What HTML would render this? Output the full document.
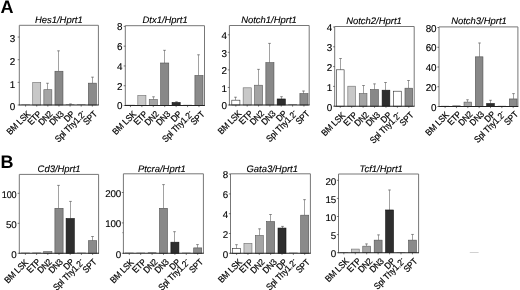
<!DOCTYPE html>
<html lang="en"><head><meta charset="utf-8"><title>Figure</title>
<style>html,body{margin:0;padding:0;background:#fff;}body{width:520px;height:290px;overflow:hidden;}</style>
</head><body>
<svg width="520" height="290" viewBox="0 0 520 290" style="display:block">
<rect width="520" height="290" fill="#fff"/>
<g text-rendering="geometricPrecision" font-family="'Liberation Sans', Arial, Helvetica, sans-serif">
<text x="0.6" y="13.4" font-size="18" font-weight="bold" fill="#000">A</text>
<text x="0.6" y="167.7" font-size="18" font-weight="bold" fill="#000">B</text>
<g>
<path d="M19.3 105V25.3H98.4V105" fill="none" stroke="#777" stroke-width="1.0"/>
<rect x="21.30" y="104.30" width="8.60" height="0.50" fill="#555" opacity="0.75"/>
<path d="M25.60 105v1.6" stroke="#222" stroke-width="0.6"/>
<text transform="translate(28.60 112.40) rotate(-45) scale(0.9 1)" text-anchor="end" font-size="9.0" letter-spacing="-0.15" word-spacing="0.2" stroke="#000" stroke-width="0.2" fill="#000" y="3.2">BM LSK</text>
<rect x="32.72" y="82.50" width="8.00" height="22.50" fill="#c8c8c8" stroke="#6c6c6c" stroke-width="0.6"/>
<path d="M36.72 105v1.6" stroke="#222" stroke-width="0.6"/>
<text transform="translate(39.72 112.40) rotate(-45) scale(0.9 1)" text-anchor="end" font-size="9.0" letter-spacing="-0.15" word-spacing="0.2" stroke="#000" stroke-width="0.2" fill="#000" y="3.2">ETP</text>
<path d="M47.50 89.70V82.95M46.00 83.25H49.00" fill="none" stroke="#555" stroke-width="0.55"/>
<rect x="43.84" y="89.70" width="8.00" height="15.30" fill="#a4a4a4" stroke="#5c5c5c" stroke-width="0.6"/>
<path d="M47.84 105v1.6" stroke="#222" stroke-width="0.6"/>
<text transform="translate(50.84 112.40) rotate(-45) scale(0.9 1)" text-anchor="end" font-size="9.0" letter-spacing="-0.15" word-spacing="0.2" stroke="#000" stroke-width="0.2" fill="#000" y="3.2">DN2</text>
<path d="M58.50 71.25V50.55M57.00 50.85H60.00" fill="none" stroke="#555" stroke-width="0.55"/>
<rect x="54.96" y="71.25" width="8.00" height="33.75" fill="#888888" stroke="#505050" stroke-width="0.6"/>
<path d="M58.96 105v1.6" stroke="#222" stroke-width="0.6"/>
<text transform="translate(61.96 112.40) rotate(-45) scale(0.9 1)" text-anchor="end" font-size="9.0" letter-spacing="-0.15" word-spacing="0.2" stroke="#000" stroke-width="0.2" fill="#000" y="3.2">DN3</text>
<path d="M70.50 104.33V103.65M69.00 103.95H72.00" fill="none" stroke="#555" stroke-width="0.55"/>
<rect x="65.78" y="104.12" width="8.60" height="0.67" fill="#555" opacity="0.75"/>
<path d="M70.08 105v1.6" stroke="#222" stroke-width="0.6"/>
<text transform="translate(73.08 112.40) rotate(-45) scale(0.9 1)" text-anchor="end" font-size="9.0" letter-spacing="-0.15" word-spacing="0.2" stroke="#000" stroke-width="0.2" fill="#000" y="3.2">DP</text>
<rect x="76.90" y="104.12" width="8.60" height="0.67" fill="#555" opacity="0.75"/>
<path d="M81.20 105v1.6" stroke="#222" stroke-width="0.6"/>
<text transform="translate(84.20 112.40) rotate(-45) scale(0.9 1)" text-anchor="end" font-size="9.0" letter-spacing="-0.15" word-spacing="0.2" stroke="#000" stroke-width="0.2" fill="#000" y="3.2">Spl Thy1.2<tspan dy="-3.2" dx="0.3" font-size="7">-</tspan></text>
<path d="M92.50 83.17V76.88M91.00 77.17H94.00" fill="none" stroke="#555" stroke-width="0.55"/>
<rect x="88.32" y="83.17" width="8.00" height="21.82" fill="#8a8a8a" stroke="#505050" stroke-width="0.6"/>
<path d="M92.32 105v1.6" stroke="#222" stroke-width="0.6"/>
<text transform="translate(95.32 112.40) rotate(-45) scale(0.9 1)" text-anchor="end" font-size="9.0" letter-spacing="-0.15" word-spacing="0.2" stroke="#000" stroke-width="0.2" fill="#000" y="3.2">SPT</text>
<path d="M18.900000000000002 105H98.80000000000001" fill="none" stroke="#222" stroke-width="1.1"/>
<path d="M19.3 105.00h-1.6" stroke="#222" stroke-width="0.6"/>
<text transform="translate(15.10 110.23) scale(1 1)" text-anchor="end" font-size="9.9" letter-spacing="-0.2" stroke="#000" stroke-width="0.12" fill="#000">0</text>
<path d="M19.3 82.35h-1.6" stroke="#222" stroke-width="0.6"/>
<text transform="translate(15.10 87.58) scale(1 1)" text-anchor="end" font-size="9.9" letter-spacing="-0.2" stroke="#000" stroke-width="0.12" fill="#000">1</text>
<path d="M19.3 59.70h-1.6" stroke="#222" stroke-width="0.6"/>
<text transform="translate(15.10 64.93) scale(1 1)" text-anchor="end" font-size="9.9" letter-spacing="-0.2" stroke="#000" stroke-width="0.12" fill="#000">2</text>
<path d="M19.3 37.05h-1.6" stroke="#222" stroke-width="0.6"/>
<text transform="translate(15.10 42.28) scale(1 1)" text-anchor="end" font-size="9.9" letter-spacing="-0.2" stroke="#000" stroke-width="0.12" fill="#000">3</text>
<text x="58.8" y="22.9" text-anchor="middle" font-size="9.45" font-style="italic" stroke="#000" stroke-width="0.12" fill="#000">Hes1/Hprt1</text>
</g>
<g>
<path d="M125.3 105.5V25.7H204.5V105.5" fill="none" stroke="#777" stroke-width="1.0"/>
<rect x="126.10" y="104.80" width="8.70" height="0.50" fill="#555" opacity="0.75"/>
<path d="M130.45 105.5v1.6" stroke="#222" stroke-width="0.6"/>
<text transform="translate(134.35 112.50) rotate(-45) scale(0.9 1)" text-anchor="end" font-size="9.0" letter-spacing="-0.15" word-spacing="0.2" stroke="#000" stroke-width="0.2" fill="#000" y="3.2">BM LSK</text>
<rect x="137.82" y="95.50" width="8.10" height="10.00" fill="#c8c8c8" stroke="#6c6c6c" stroke-width="0.6"/>
<path d="M141.87 105.5v1.6" stroke="#222" stroke-width="0.6"/>
<text transform="translate(145.77 112.50) rotate(-45) scale(0.9 1)" text-anchor="end" font-size="9.0" letter-spacing="-0.15" word-spacing="0.2" stroke="#000" stroke-width="0.2" fill="#000" y="3.2">ETP</text>
<path d="M153.50 99.50V96.50M152.00 96.80H155.00" fill="none" stroke="#555" stroke-width="0.55"/>
<rect x="149.24" y="99.50" width="8.10" height="6.00" fill="#a4a4a4" stroke="#5c5c5c" stroke-width="0.6"/>
<path d="M153.29 105.5v1.6" stroke="#222" stroke-width="0.6"/>
<text transform="translate(157.19 112.50) rotate(-45) scale(0.9 1)" text-anchor="end" font-size="9.0" letter-spacing="-0.15" word-spacing="0.2" stroke="#000" stroke-width="0.2" fill="#000" y="3.2">DN2</text>
<path d="M164.50 63.00V50.00M163.00 50.30H166.00" fill="none" stroke="#555" stroke-width="0.55"/>
<rect x="160.66" y="63.00" width="8.10" height="42.50" fill="#888888" stroke="#505050" stroke-width="0.6"/>
<path d="M164.71 105.5v1.6" stroke="#222" stroke-width="0.6"/>
<text transform="translate(168.61 112.50) rotate(-45) scale(0.9 1)" text-anchor="end" font-size="9.0" letter-spacing="-0.15" word-spacing="0.2" stroke="#000" stroke-width="0.2" fill="#000" y="3.2">DN3</text>
<path d="M176.50 102.50V101.50M175.00 101.80H178.00" fill="none" stroke="#555" stroke-width="0.55"/>
<rect x="172.08" y="102.50" width="8.10" height="3.00" fill="#2e2e2e" stroke="#111" stroke-width="0.6"/>
<path d="M176.13 105.5v1.6" stroke="#222" stroke-width="0.6"/>
<text transform="translate(180.03 112.50) rotate(-45) scale(0.9 1)" text-anchor="end" font-size="9.0" letter-spacing="-0.15" word-spacing="0.2" stroke="#000" stroke-width="0.2" fill="#000" y="3.2">DP</text>
<rect x="183.20" y="104.80" width="8.70" height="0.50" fill="#555" opacity="0.75"/>
<path d="M187.55 105.5v1.6" stroke="#222" stroke-width="0.6"/>
<text transform="translate(191.45 112.50) rotate(-45) scale(0.9 1)" text-anchor="end" font-size="9.0" letter-spacing="-0.15" word-spacing="0.2" stroke="#000" stroke-width="0.2" fill="#000" y="3.2">Spl Thy1.2<tspan dy="-3.2" dx="0.3" font-size="7">-</tspan></text>
<path d="M198.50 75.50V54.50M197.00 54.80H200.00" fill="none" stroke="#555" stroke-width="0.55"/>
<rect x="194.92" y="75.50" width="8.10" height="30.00" fill="#8a8a8a" stroke="#505050" stroke-width="0.6"/>
<path d="M198.97 105.5v1.6" stroke="#222" stroke-width="0.6"/>
<text transform="translate(202.87 112.50) rotate(-45) scale(0.9 1)" text-anchor="end" font-size="9.0" letter-spacing="-0.15" word-spacing="0.2" stroke="#000" stroke-width="0.2" fill="#000" y="3.2">SPT</text>
<path d="M124.89999999999999 105.5H204.9" fill="none" stroke="#222" stroke-width="1.1"/>
<path d="M125.3 105.50h-1.6" stroke="#222" stroke-width="0.6"/>
<text transform="translate(122.30 109.33) scale(1 1)" text-anchor="end" font-size="9.9" letter-spacing="-0.2" stroke="#000" stroke-width="0.12" fill="#000">0</text>
<path d="M125.3 85.72h-1.6" stroke="#222" stroke-width="0.6"/>
<text transform="translate(122.30 89.55) scale(1 1)" text-anchor="end" font-size="9.9" letter-spacing="-0.2" stroke="#000" stroke-width="0.12" fill="#000">2</text>
<path d="M125.3 65.94h-1.6" stroke="#222" stroke-width="0.6"/>
<text transform="translate(122.30 69.77) scale(1 1)" text-anchor="end" font-size="9.9" letter-spacing="-0.2" stroke="#000" stroke-width="0.12" fill="#000">4</text>
<path d="M125.3 46.16h-1.6" stroke="#222" stroke-width="0.6"/>
<text transform="translate(122.30 49.99) scale(1 1)" text-anchor="end" font-size="9.9" letter-spacing="-0.2" stroke="#000" stroke-width="0.12" fill="#000">6</text>
<path d="M125.3 26.38h-1.6" stroke="#222" stroke-width="0.6"/>
<text transform="translate(122.30 30.21) scale(1 1)" text-anchor="end" font-size="9.9" letter-spacing="-0.2" stroke="#000" stroke-width="0.12" fill="#000">8</text>
<text x="165.1" y="23.2" text-anchor="middle" font-size="9.45" font-style="italic" stroke="#000" stroke-width="0.12" fill="#000">Dtx1/Hprt1</text>
</g>
<g>
<path d="M229.4 105V25.5H309.2V105" fill="none" stroke="#777" stroke-width="1.0"/>
<path d="M235.50 100.18V96.92M234.00 97.22H237.00" fill="none" stroke="#555" stroke-width="0.55"/>
<rect x="231.80" y="100.18" width="8.10" height="4.82" fill="#ffffff" stroke="#2a2a2a" stroke-width="0.6"/>
<path d="M235.85 105v1.6" stroke="#222" stroke-width="0.6"/>
<text transform="translate(239.75 112.00) rotate(-45) scale(0.9 1)" text-anchor="end" font-size="9.0" letter-spacing="-0.15" word-spacing="0.2" stroke="#000" stroke-width="0.2" fill="#000" y="3.2">BM LSK</text>
<rect x="243.15" y="87.80" width="8.10" height="17.20" fill="#c8c8c8" stroke="#6c6c6c" stroke-width="0.6"/>
<path d="M247.20 105v1.6" stroke="#222" stroke-width="0.6"/>
<text transform="translate(251.10 112.00) rotate(-45) scale(0.9 1)" text-anchor="end" font-size="9.0" letter-spacing="-0.15" word-spacing="0.2" stroke="#000" stroke-width="0.2" fill="#000" y="3.2">ETP</text>
<path d="M258.50 85.22V69.05M257.00 69.35H260.00" fill="none" stroke="#555" stroke-width="0.55"/>
<rect x="254.50" y="85.22" width="8.10" height="19.78" fill="#a4a4a4" stroke="#5c5c5c" stroke-width="0.6"/>
<path d="M258.55 105v1.6" stroke="#222" stroke-width="0.6"/>
<text transform="translate(262.45 112.00) rotate(-45) scale(0.9 1)" text-anchor="end" font-size="9.0" letter-spacing="-0.15" word-spacing="0.2" stroke="#000" stroke-width="0.2" fill="#000" y="3.2">DN2</text>
<path d="M269.50 62.69V43.08M268.00 43.38H271.00" fill="none" stroke="#555" stroke-width="0.55"/>
<rect x="265.85" y="62.69" width="8.10" height="42.31" fill="#888888" stroke="#505050" stroke-width="0.6"/>
<path d="M269.90 105v1.6" stroke="#222" stroke-width="0.6"/>
<text transform="translate(273.80 112.00) rotate(-45) scale(0.9 1)" text-anchor="end" font-size="9.0" letter-spacing="-0.15" word-spacing="0.2" stroke="#000" stroke-width="0.2" fill="#000" y="3.2">DN3</text>
<path d="M281.50 98.98V96.40M280.00 96.70H283.00" fill="none" stroke="#555" stroke-width="0.55"/>
<rect x="277.20" y="98.98" width="8.10" height="6.02" fill="#2e2e2e" stroke="#111" stroke-width="0.6"/>
<path d="M281.25 105v1.6" stroke="#222" stroke-width="0.6"/>
<text transform="translate(285.15 112.00) rotate(-45) scale(0.9 1)" text-anchor="end" font-size="9.0" letter-spacing="-0.15" word-spacing="0.2" stroke="#000" stroke-width="0.2" fill="#000" y="3.2">DP</text>
<rect x="288.25" y="104.11" width="8.70" height="0.69" fill="#555" opacity="0.75"/>
<path d="M292.60 105v1.6" stroke="#222" stroke-width="0.6"/>
<text transform="translate(295.60 112.10) rotate(-45) scale(0.9 1)" text-anchor="end" font-size="9.0" letter-spacing="-0.15" word-spacing="0.2" stroke="#000" stroke-width="0.2" fill="#000" y="3.2">Spl Thy1.2<tspan dy="-3.2" dx="0.3" font-size="7">-</tspan></text>
<path d="M303.50 93.65V90.72M302.00 91.02H305.00" fill="none" stroke="#555" stroke-width="0.55"/>
<rect x="299.90" y="93.65" width="8.10" height="11.35" fill="#8a8a8a" stroke="#505050" stroke-width="0.6"/>
<path d="M303.95 105v1.6" stroke="#222" stroke-width="0.6"/>
<text transform="translate(307.85 112.00) rotate(-45) scale(0.9 1)" text-anchor="end" font-size="9.0" letter-spacing="-0.15" word-spacing="0.2" stroke="#000" stroke-width="0.2" fill="#000" y="3.2">SPT</text>
<path d="M229.0 105H309.59999999999997" fill="none" stroke="#222" stroke-width="1.1"/>
<path d="M229.4 105.00h-1.6" stroke="#222" stroke-width="0.6"/>
<text transform="translate(226.80 109.33) scale(1 1)" text-anchor="end" font-size="9.9" letter-spacing="-0.2" stroke="#000" stroke-width="0.12" fill="#000">0</text>
<path d="M229.4 87.45h-1.6" stroke="#222" stroke-width="0.6"/>
<text transform="translate(226.80 91.78) scale(1 1)" text-anchor="end" font-size="9.9" letter-spacing="-0.2" stroke="#000" stroke-width="0.12" fill="#000">1</text>
<path d="M229.4 69.90h-1.6" stroke="#222" stroke-width="0.6"/>
<text transform="translate(226.80 74.23) scale(1 1)" text-anchor="end" font-size="9.9" letter-spacing="-0.2" stroke="#000" stroke-width="0.12" fill="#000">2</text>
<path d="M229.4 52.35h-1.6" stroke="#222" stroke-width="0.6"/>
<text transform="translate(226.80 56.68) scale(1 1)" text-anchor="end" font-size="9.9" letter-spacing="-0.2" stroke="#000" stroke-width="0.12" fill="#000">3</text>
<path d="M229.4 34.80h-1.6" stroke="#222" stroke-width="0.6"/>
<text transform="translate(226.80 39.13) scale(1 1)" text-anchor="end" font-size="9.9" letter-spacing="-0.2" stroke="#000" stroke-width="0.12" fill="#000">4</text>
<text x="269" y="22.6" text-anchor="middle" font-size="9.45" font-style="italic" stroke="#000" stroke-width="0.12" fill="#000">Notch1/Hprt1</text>
</g>
<g>
<path d="M334.7 106.2V26.5H414.2V106.2" fill="none" stroke="#777" stroke-width="1.0"/>
<path d="M340.50 69.80V58.20M339.00 58.50H342.00" fill="none" stroke="#555" stroke-width="0.55"/>
<rect x="336.40" y="69.80" width="7.70" height="36.40" fill="#ffffff" stroke="#2a2a2a" stroke-width="0.6"/>
<path d="M340.25 106.2v1.6" stroke="#222" stroke-width="0.6"/>
<text transform="translate(343.35 113.70) rotate(-45) scale(0.9 1)" text-anchor="end" font-size="9.0" letter-spacing="-0.15" word-spacing="0.2" stroke="#000" stroke-width="0.2" fill="#000" y="3.2">BM LSK</text>
<rect x="347.83" y="86.20" width="7.70" height="20.00" fill="#c8c8c8" stroke="#6c6c6c" stroke-width="0.6"/>
<path d="M351.68 106.2v1.6" stroke="#222" stroke-width="0.6"/>
<text transform="translate(355.58 113.40) rotate(-45) scale(0.9 1)" text-anchor="end" font-size="9.0" letter-spacing="-0.15" word-spacing="0.2" stroke="#000" stroke-width="0.2" fill="#000" y="3.2">ETP</text>
<path d="M363.50 93.60V85.20M362.00 85.50H365.00" fill="none" stroke="#555" stroke-width="0.55"/>
<rect x="359.26" y="93.60" width="7.70" height="12.60" fill="#a4a4a4" stroke="#5c5c5c" stroke-width="0.6"/>
<path d="M363.11 106.2v1.6" stroke="#222" stroke-width="0.6"/>
<text transform="translate(367.01 113.40) rotate(-45) scale(0.9 1)" text-anchor="end" font-size="9.0" letter-spacing="-0.15" word-spacing="0.2" stroke="#000" stroke-width="0.2" fill="#000" y="3.2">DN2</text>
<path d="M374.50 89.60V83.60M373.00 83.90H376.00" fill="none" stroke="#555" stroke-width="0.55"/>
<rect x="370.69" y="89.60" width="7.70" height="16.60" fill="#888888" stroke="#505050" stroke-width="0.6"/>
<path d="M374.54 106.2v1.6" stroke="#222" stroke-width="0.6"/>
<text transform="translate(378.44 113.40) rotate(-45) scale(0.9 1)" text-anchor="end" font-size="9.0" letter-spacing="-0.15" word-spacing="0.2" stroke="#000" stroke-width="0.2" fill="#000" y="3.2">DN3</text>
<path d="M385.50 90.20V82.20M384.00 82.50H387.00" fill="none" stroke="#555" stroke-width="0.55"/>
<rect x="382.12" y="90.20" width="7.70" height="16.00" fill="#2e2e2e" stroke="#111" stroke-width="0.6"/>
<path d="M385.97 106.2v1.6" stroke="#222" stroke-width="0.6"/>
<text transform="translate(389.87 113.40) rotate(-45) scale(0.9 1)" text-anchor="end" font-size="9.0" letter-spacing="-0.15" word-spacing="0.2" stroke="#000" stroke-width="0.2" fill="#000" y="3.2">DP</text>
<rect x="393.55" y="91.20" width="7.70" height="15.00" fill="#ffffff" stroke="#2a2a2a" stroke-width="0.6"/>
<path d="M397.40 106.2v1.6" stroke="#222" stroke-width="0.6"/>
<text transform="translate(399.30 113.80) rotate(-45) scale(0.9 1)" text-anchor="end" font-size="9.0" letter-spacing="-0.15" word-spacing="0.2" stroke="#000" stroke-width="0.2" fill="#000" y="3.2">Spl Thy1.2<tspan dy="-3.2" dx="0.3" font-size="7">-</tspan></text>
<path d="M408.50 88.20V80.20M407.00 80.50H410.00" fill="none" stroke="#555" stroke-width="0.55"/>
<rect x="404.98" y="88.20" width="7.70" height="18.00" fill="#8a8a8a" stroke="#505050" stroke-width="0.6"/>
<path d="M408.83 106.2v1.6" stroke="#222" stroke-width="0.6"/>
<text transform="translate(411.93 113.40) rotate(-45) scale(0.9 1)" text-anchor="end" font-size="9.0" letter-spacing="-0.15" word-spacing="0.2" stroke="#000" stroke-width="0.2" fill="#000" y="3.2">SPT</text>
<path d="M334.3 106.2H414.59999999999997" fill="none" stroke="#222" stroke-width="1.1"/>
<path d="M334.7 106.20h-1.6" stroke="#222" stroke-width="0.6"/>
<text transform="translate(332.10 110.53) scale(1 1)" text-anchor="end" font-size="9.9" letter-spacing="-0.2" stroke="#000" stroke-width="0.12" fill="#000">0</text>
<path d="M334.7 86.40h-1.6" stroke="#222" stroke-width="0.6"/>
<text transform="translate(332.10 90.73) scale(1 1)" text-anchor="end" font-size="9.9" letter-spacing="-0.2" stroke="#000" stroke-width="0.12" fill="#000">1</text>
<path d="M334.7 66.60h-1.6" stroke="#222" stroke-width="0.6"/>
<text transform="translate(332.10 70.93) scale(1 1)" text-anchor="end" font-size="9.9" letter-spacing="-0.2" stroke="#000" stroke-width="0.12" fill="#000">2</text>
<path d="M334.7 46.80h-1.6" stroke="#222" stroke-width="0.6"/>
<text transform="translate(332.10 51.13) scale(1 1)" text-anchor="end" font-size="9.9" letter-spacing="-0.2" stroke="#000" stroke-width="0.12" fill="#000">3</text>
<path d="M334.7 27.00h-1.6" stroke="#222" stroke-width="0.6"/>
<text transform="translate(332.10 31.33) scale(1 1)" text-anchor="end" font-size="9.9" letter-spacing="-0.2" stroke="#000" stroke-width="0.12" fill="#000">4</text>
<text x="374" y="24.2" text-anchor="middle" font-size="9.45" font-style="italic" stroke="#000" stroke-width="0.12" fill="#000">Notch2/Hprt1</text>
</g>
<g>
<path d="M439 106.5V26.9H517.9V106.5" fill="none" stroke="#777" stroke-width="1.0"/>
<rect x="441.00" y="105.80" width="8.20" height="0.50" fill="#555" opacity="0.75"/>
<path d="M445.10 106.5v1.6" stroke="#222" stroke-width="0.6"/>
<text transform="translate(447.20 113.30) rotate(-45) scale(0.9 1)" text-anchor="end" font-size="9.0" letter-spacing="-0.15" word-spacing="0.2" stroke="#000" stroke-width="0.2" fill="#000" y="3.2">BM LSK</text>
<rect x="452.35" y="105.31" width="8.20" height="0.99" fill="#555" opacity="0.75"/>
<path d="M456.45 106.5v1.6" stroke="#222" stroke-width="0.6"/>
<text transform="translate(459.55 112.70) rotate(-45) scale(0.9 1)" text-anchor="end" font-size="9.0" letter-spacing="-0.15" word-spacing="0.2" stroke="#000" stroke-width="0.2" fill="#000" y="3.2">ETP</text>
<path d="M467.50 102.11V99.49M466.00 99.79H469.00" fill="none" stroke="#555" stroke-width="0.55"/>
<rect x="464.00" y="102.11" width="7.60" height="4.39" fill="#a4a4a4" stroke="#5c5c5c" stroke-width="0.6"/>
<path d="M467.80 106.5v1.6" stroke="#222" stroke-width="0.6"/>
<text transform="translate(470.90 112.70) rotate(-45) scale(0.9 1)" text-anchor="end" font-size="9.0" letter-spacing="-0.15" word-spacing="0.2" stroke="#000" stroke-width="0.2" fill="#000" y="3.2">DN2</text>
<path d="M479.50 56.83V42.71M478.00 43.01H481.00" fill="none" stroke="#555" stroke-width="0.55"/>
<rect x="475.35" y="56.83" width="7.60" height="49.67" fill="#888888" stroke="#505050" stroke-width="0.6"/>
<path d="M479.15 106.5v1.6" stroke="#222" stroke-width="0.6"/>
<text transform="translate(482.25 112.70) rotate(-45) scale(0.9 1)" text-anchor="end" font-size="9.0" letter-spacing="-0.15" word-spacing="0.2" stroke="#000" stroke-width="0.2" fill="#000" y="3.2">DN3</text>
<path d="M490.50 103.54V99.98M489.00 100.28H492.00" fill="none" stroke="#555" stroke-width="0.55"/>
<rect x="486.70" y="103.54" width="7.60" height="2.96" fill="#2e2e2e" stroke="#111" stroke-width="0.6"/>
<path d="M490.50 106.5v1.6" stroke="#222" stroke-width="0.6"/>
<text transform="translate(493.60 112.70) rotate(-45) scale(0.9 1)" text-anchor="end" font-size="9.0" letter-spacing="-0.15" word-spacing="0.2" stroke="#000" stroke-width="0.2" fill="#000" y="3.2">DP</text>
<rect x="497.75" y="105.80" width="8.20" height="0.50" fill="#555" opacity="0.75"/>
<path d="M501.85 106.5v1.6" stroke="#222" stroke-width="0.6"/>
<text transform="translate(503.55 112.90) rotate(-45) scale(0.9 1)" text-anchor="end" font-size="9.0" letter-spacing="-0.15" word-spacing="0.2" stroke="#000" stroke-width="0.2" fill="#000" y="3.2">Spl Thy1.2<tspan dy="-3.2" dx="0.3" font-size="7">-</tspan></text>
<path d="M513.50 98.95V93.32M512.00 93.62H515.00" fill="none" stroke="#555" stroke-width="0.55"/>
<rect x="509.40" y="98.95" width="7.60" height="7.55" fill="#8a8a8a" stroke="#505050" stroke-width="0.6"/>
<path d="M513.20 106.5v1.6" stroke="#222" stroke-width="0.6"/>
<text transform="translate(516.30 112.70) rotate(-45) scale(0.9 1)" text-anchor="end" font-size="9.0" letter-spacing="-0.15" word-spacing="0.2" stroke="#000" stroke-width="0.2" fill="#000" y="3.2">SPT</text>
<path d="M438.6 106.5H518.3" fill="none" stroke="#222" stroke-width="1.1"/>
<path d="M439 106.50h-1.6" stroke="#222" stroke-width="0.6"/>
<text transform="translate(436.40 110.63) scale(1 1)" text-anchor="end" font-size="9.9" letter-spacing="-0.2" stroke="#000" stroke-width="0.12" fill="#000">0</text>
<path d="M439 86.75h-1.6" stroke="#222" stroke-width="0.6"/>
<text transform="translate(436.40 90.88) scale(1 1)" text-anchor="end" font-size="9.9" letter-spacing="-0.2" stroke="#000" stroke-width="0.12" fill="#000">20</text>
<path d="M439 67.00h-1.6" stroke="#222" stroke-width="0.6"/>
<text transform="translate(436.40 71.13) scale(1 1)" text-anchor="end" font-size="9.9" letter-spacing="-0.2" stroke="#000" stroke-width="0.12" fill="#000">40</text>
<path d="M439 47.25h-1.6" stroke="#222" stroke-width="0.6"/>
<text transform="translate(436.40 51.38) scale(1 1)" text-anchor="end" font-size="9.9" letter-spacing="-0.2" stroke="#000" stroke-width="0.12" fill="#000">60</text>
<path d="M439 27.50h-1.6" stroke="#222" stroke-width="0.6"/>
<text transform="translate(436.40 31.63) scale(1 1)" text-anchor="end" font-size="9.9" letter-spacing="-0.2" stroke="#000" stroke-width="0.12" fill="#000">80</text>
<text x="479" y="24.2" text-anchor="middle" font-size="9.45" font-style="italic" stroke="#000" stroke-width="0.12" fill="#000">Notch3/Hprt1</text>
</g>
<g>
<path d="M19.3 253.3V174.4H98.6V253.3" fill="none" stroke="#777" stroke-width="1.0"/>
<rect x="21.00" y="252.60" width="8.80" height="0.50" fill="#555" opacity="0.75"/>
<path d="M25.40 253.3v1.6" stroke="#222" stroke-width="0.6"/>
<text transform="translate(26.40 260.90) rotate(-45) scale(0.9 1)" text-anchor="end" font-size="9.0" letter-spacing="-0.15" word-spacing="0.2" stroke="#000" stroke-width="0.2" fill="#000" y="3.2">BM LSK</text>
<rect x="32.20" y="252.50" width="8.80" height="0.60" fill="#555" opacity="0.75"/>
<path d="M36.60 253.3v1.6" stroke="#222" stroke-width="0.6"/>
<text transform="translate(38.80 260.30) rotate(-45) scale(0.9 1)" text-anchor="end" font-size="9.0" letter-spacing="-0.15" word-spacing="0.2" stroke="#000" stroke-width="0.2" fill="#000" y="3.2">ETP</text>
<rect x="43.70" y="251.50" width="8.20" height="1.80" fill="#a4a4a4" stroke="#5c5c5c" stroke-width="0.6"/>
<path d="M47.80 253.3v1.6" stroke="#222" stroke-width="0.6"/>
<text transform="translate(50.00 260.30) rotate(-45) scale(0.9 1)" text-anchor="end" font-size="9.0" letter-spacing="-0.15" word-spacing="0.2" stroke="#000" stroke-width="0.2" fill="#000" y="3.2">DN2</text>
<path d="M58.50 208.30V185.08M57.00 185.38H60.00" fill="none" stroke="#555" stroke-width="0.55"/>
<rect x="54.90" y="208.30" width="8.20" height="45.00" fill="#888888" stroke="#505050" stroke-width="0.6"/>
<path d="M59.00 253.3v1.6" stroke="#222" stroke-width="0.6"/>
<text transform="translate(61.20 260.30) rotate(-45) scale(0.9 1)" text-anchor="end" font-size="9.0" letter-spacing="-0.15" word-spacing="0.2" stroke="#000" stroke-width="0.2" fill="#000" y="3.2">DN3</text>
<path d="M70.50 218.50V201.10M69.00 201.40H72.00" fill="none" stroke="#555" stroke-width="0.55"/>
<rect x="66.10" y="218.50" width="8.20" height="34.80" fill="#2e2e2e" stroke="#111" stroke-width="0.6"/>
<path d="M70.20 253.3v1.6" stroke="#222" stroke-width="0.6"/>
<text transform="translate(72.40 260.30) rotate(-45) scale(0.9 1)" text-anchor="end" font-size="9.0" letter-spacing="-0.15" word-spacing="0.2" stroke="#000" stroke-width="0.2" fill="#000" y="3.2">DP</text>
<rect x="77.00" y="252.60" width="8.80" height="0.50" fill="#555" opacity="0.75"/>
<path d="M81.40 253.3v1.6" stroke="#222" stroke-width="0.6"/>
<text transform="translate(82.40 260.70) rotate(-45) scale(0.9 1)" text-anchor="end" font-size="9.0" letter-spacing="-0.15" word-spacing="0.2" stroke="#000" stroke-width="0.2" fill="#000" y="3.2">Spl Thy1.2<tspan dy="-3.2" dx="0.3" font-size="7">-</tspan></text>
<path d="M92.50 240.70V236.20M91.00 236.50H94.00" fill="none" stroke="#555" stroke-width="0.55"/>
<rect x="88.50" y="240.70" width="8.20" height="12.60" fill="#8a8a8a" stroke="#505050" stroke-width="0.6"/>
<path d="M92.60 253.3v1.6" stroke="#222" stroke-width="0.6"/>
<text transform="translate(94.80 260.30) rotate(-45) scale(0.9 1)" text-anchor="end" font-size="9.0" letter-spacing="-0.15" word-spacing="0.2" stroke="#000" stroke-width="0.2" fill="#000" y="3.2">SPT</text>
<path d="M18.900000000000002 253.3H99.0" fill="none" stroke="#222" stroke-width="1.1"/>
<path d="M19.3 253.30h-1.6" stroke="#222" stroke-width="0.6"/>
<text transform="translate(16.50 257.83) scale(1 1)" text-anchor="end" font-size="9.8" letter-spacing="-0.2" stroke="#000" stroke-width="0.12" fill="#000">0</text>
<path d="M19.3 223.30h-1.6" stroke="#222" stroke-width="0.6"/>
<text transform="translate(16.50 227.83) scale(1 1)" text-anchor="end" font-size="9.8" letter-spacing="-0.2" stroke="#000" stroke-width="0.12" fill="#000">50</text>
<path d="M19.3 193.30h-1.6" stroke="#222" stroke-width="0.6"/>
<text transform="translate(16.50 197.83) scale(0.93 1)" text-anchor="end" font-size="9.8" letter-spacing="-0.2" stroke="#000" stroke-width="0.12" fill="#000">100</text>
<text x="59.1" y="171.9" text-anchor="middle" font-size="9.45" font-style="italic" stroke="#000" stroke-width="0.12" fill="#000">Cd3/Hprt1</text>
</g>
<g>
<path d="M123.4 253.3V173.8H203.4V253.3" fill="none" stroke="#777" stroke-width="1.0"/>
<rect x="125.00" y="252.60" width="8.60" height="0.50" fill="#555" opacity="0.75"/>
<path d="M129.30 253.3v1.6" stroke="#222" stroke-width="0.6"/>
<text transform="translate(132.00 260.80) rotate(-45) scale(0.9 1)" text-anchor="end" font-size="9.0" letter-spacing="-0.15" word-spacing="0.2" stroke="#000" stroke-width="0.2" fill="#000" y="3.2">BM LSK</text>
<rect x="136.40" y="252.60" width="8.60" height="0.50" fill="#555" opacity="0.75"/>
<path d="M140.70 253.3v1.6" stroke="#222" stroke-width="0.6"/>
<text transform="translate(144.40 260.40) rotate(-45) scale(0.9 1)" text-anchor="end" font-size="9.0" letter-spacing="-0.15" word-spacing="0.2" stroke="#000" stroke-width="0.2" fill="#000" y="3.2">ETP</text>
<rect x="147.80" y="252.20" width="8.60" height="0.90" fill="#555" opacity="0.75"/>
<path d="M152.10 253.3v1.6" stroke="#222" stroke-width="0.6"/>
<text transform="translate(155.80 260.40) rotate(-45) scale(0.9 1)" text-anchor="end" font-size="9.0" letter-spacing="-0.15" word-spacing="0.2" stroke="#000" stroke-width="0.2" fill="#000" y="3.2">DN2</text>
<path d="M163.50 208.30V184.30M162.00 184.60H165.00" fill="none" stroke="#555" stroke-width="0.55"/>
<rect x="159.50" y="208.30" width="8.00" height="45.00" fill="#888888" stroke="#505050" stroke-width="0.6"/>
<path d="M163.50 253.3v1.6" stroke="#222" stroke-width="0.6"/>
<text transform="translate(167.20 260.40) rotate(-45) scale(0.9 1)" text-anchor="end" font-size="9.0" letter-spacing="-0.15" word-spacing="0.2" stroke="#000" stroke-width="0.2" fill="#000" y="3.2">DN3</text>
<path d="M174.50 242.20V231.40M173.00 231.70H176.00" fill="none" stroke="#555" stroke-width="0.55"/>
<rect x="170.90" y="242.20" width="8.00" height="11.10" fill="#2e2e2e" stroke="#111" stroke-width="0.6"/>
<path d="M174.90 253.3v1.6" stroke="#222" stroke-width="0.6"/>
<text transform="translate(178.60 260.40) rotate(-45) scale(0.9 1)" text-anchor="end" font-size="9.0" letter-spacing="-0.15" word-spacing="0.2" stroke="#000" stroke-width="0.2" fill="#000" y="3.2">DP</text>
<rect x="182.00" y="252.60" width="8.60" height="0.50" fill="#555" opacity="0.75"/>
<path d="M186.30 253.3v1.6" stroke="#222" stroke-width="0.6"/>
<text transform="translate(187.80 260.70) rotate(-45) scale(0.9 1)" text-anchor="end" font-size="9.0" letter-spacing="-0.15" word-spacing="0.2" stroke="#000" stroke-width="0.2" fill="#000" y="3.2">Spl Thy1.2<tspan dy="-3.2" dx="0.3" font-size="7">-</tspan></text>
<path d="M197.50 247.90V244.30M196.00 244.60H199.00" fill="none" stroke="#555" stroke-width="0.55"/>
<rect x="193.70" y="247.90" width="8.00" height="5.40" fill="#8a8a8a" stroke="#505050" stroke-width="0.6"/>
<path d="M197.70 253.3v1.6" stroke="#222" stroke-width="0.6"/>
<text transform="translate(201.40 260.40) rotate(-45) scale(0.9 1)" text-anchor="end" font-size="9.0" letter-spacing="-0.15" word-spacing="0.2" stroke="#000" stroke-width="0.2" fill="#000" y="3.2">SPT</text>
<path d="M123.0 253.3H203.8" fill="none" stroke="#222" stroke-width="1.1"/>
<path d="M123.4 253.30h-1.6" stroke="#222" stroke-width="0.6"/>
<text transform="translate(120.90 257.58) scale(1 1)" text-anchor="end" font-size="9.8" letter-spacing="-0.2" stroke="#000" stroke-width="0.12" fill="#000">0</text>
<path d="M123.4 222.90h-1.6" stroke="#222" stroke-width="0.6"/>
<text transform="translate(120.90 227.18) scale(1 1)" text-anchor="end" font-size="9.8" letter-spacing="-0.2" stroke="#000" stroke-width="0.12" fill="#000">100</text>
<path d="M123.4 192.50h-1.6" stroke="#222" stroke-width="0.6"/>
<text transform="translate(120.90 196.78) scale(1 1)" text-anchor="end" font-size="9.8" letter-spacing="-0.2" stroke="#000" stroke-width="0.12" fill="#000">200</text>
<text x="161.8" y="172.3" text-anchor="middle" font-size="9.45" font-style="italic" stroke="#000" stroke-width="0.12" fill="#000">Ptcra/Hprt1</text>
</g>
<g>
<path d="M230.5 253.3V173.8H310.4V253.3" fill="none" stroke="#777" stroke-width="1.0"/>
<path d="M236.50 248.65V244.39M235.00 244.69H238.00" fill="none" stroke="#555" stroke-width="0.55"/>
<rect x="232.60" y="248.65" width="8.00" height="4.65" fill="#ffffff" stroke="#2a2a2a" stroke-width="0.6"/>
<path d="M236.60 253.3v1.6" stroke="#222" stroke-width="0.6"/>
<text transform="translate(240.10 260.50) rotate(-45) scale(0.9 1)" text-anchor="end" font-size="9.0" letter-spacing="-0.15" word-spacing="0.2" stroke="#000" stroke-width="0.2" fill="#000" y="3.2">BM LSK</text>
<rect x="243.95" y="243.40" width="8.00" height="9.90" fill="#c8c8c8" stroke="#6c6c6c" stroke-width="0.6"/>
<path d="M247.95 253.3v1.6" stroke="#222" stroke-width="0.6"/>
<text transform="translate(251.45 260.50) rotate(-45) scale(0.9 1)" text-anchor="end" font-size="9.0" letter-spacing="-0.15" word-spacing="0.2" stroke="#000" stroke-width="0.2" fill="#000" y="3.2">ETP</text>
<path d="M259.50 235.48V228.55M258.00 228.85H261.00" fill="none" stroke="#555" stroke-width="0.55"/>
<rect x="255.30" y="235.48" width="8.00" height="17.82" fill="#a4a4a4" stroke="#5c5c5c" stroke-width="0.6"/>
<path d="M259.30 253.3v1.6" stroke="#222" stroke-width="0.6"/>
<text transform="translate(262.80 260.50) rotate(-45) scale(0.9 1)" text-anchor="end" font-size="9.0" letter-spacing="-0.15" word-spacing="0.2" stroke="#000" stroke-width="0.2" fill="#000" y="3.2">DN2</text>
<path d="M270.50 221.62V214.19M269.00 214.50H272.00" fill="none" stroke="#555" stroke-width="0.55"/>
<rect x="266.65" y="221.62" width="8.00" height="31.68" fill="#888888" stroke="#505050" stroke-width="0.6"/>
<path d="M270.65 253.3v1.6" stroke="#222" stroke-width="0.6"/>
<text transform="translate(275.05 260.50) rotate(-45) scale(0.9 1)" text-anchor="end" font-size="9.0" letter-spacing="-0.15" word-spacing="0.2" stroke="#000" stroke-width="0.2" fill="#000" y="3.2">DN3</text>
<path d="M282.50 228.06V226.08M281.00 226.38H284.00" fill="none" stroke="#555" stroke-width="0.55"/>
<rect x="278.00" y="228.06" width="8.00" height="25.24" fill="#2e2e2e" stroke="#111" stroke-width="0.6"/>
<path d="M282.00 253.3v1.6" stroke="#222" stroke-width="0.6"/>
<text transform="translate(285.50 260.50) rotate(-45) scale(0.9 1)" text-anchor="end" font-size="9.0" letter-spacing="-0.15" word-spacing="0.2" stroke="#000" stroke-width="0.2" fill="#000" y="3.2">DP</text>
<rect x="289.05" y="252.60" width="8.60" height="0.50" fill="#555" opacity="0.75"/>
<path d="M293.35 253.3v1.6" stroke="#222" stroke-width="0.6"/>
<text transform="translate(295.45 260.50) rotate(-45) scale(0.9 1)" text-anchor="end" font-size="9.0" letter-spacing="-0.15" word-spacing="0.2" stroke="#000" stroke-width="0.2" fill="#000" y="3.2">Spl Thy1.2<tspan dy="-3.2" dx="0.3" font-size="7">-</tspan></text>
<path d="M304.50 215.19V199.34M303.00 199.65H306.00" fill="none" stroke="#555" stroke-width="0.55"/>
<rect x="300.70" y="215.19" width="8.00" height="38.12" fill="#8a8a8a" stroke="#505050" stroke-width="0.6"/>
<path d="M304.70 253.3v1.6" stroke="#222" stroke-width="0.6"/>
<text transform="translate(308.20 260.50) rotate(-45) scale(0.9 1)" text-anchor="end" font-size="9.0" letter-spacing="-0.15" word-spacing="0.2" stroke="#000" stroke-width="0.2" fill="#000" y="3.2">SPT</text>
<path d="M230.1 253.3H310.79999999999995" fill="none" stroke="#222" stroke-width="1.1"/>
<path d="M230.5 253.30h-1.6" stroke="#222" stroke-width="0.6"/>
<text transform="translate(228.10 257.58) scale(1 1)" text-anchor="end" font-size="9.8" letter-spacing="-0.2" stroke="#000" stroke-width="0.12" fill="#000">0</text>
<path d="M230.5 233.50h-1.6" stroke="#222" stroke-width="0.6"/>
<text transform="translate(228.10 237.78) scale(1 1)" text-anchor="end" font-size="9.8" letter-spacing="-0.2" stroke="#000" stroke-width="0.12" fill="#000">2</text>
<path d="M230.5 213.70h-1.6" stroke="#222" stroke-width="0.6"/>
<text transform="translate(228.10 217.98) scale(1 1)" text-anchor="end" font-size="9.8" letter-spacing="-0.2" stroke="#000" stroke-width="0.12" fill="#000">4</text>
<path d="M230.5 193.90h-1.6" stroke="#222" stroke-width="0.6"/>
<text transform="translate(228.10 198.18) scale(1 1)" text-anchor="end" font-size="9.8" letter-spacing="-0.2" stroke="#000" stroke-width="0.12" fill="#000">6</text>
<path d="M230.5 174.10h-1.6" stroke="#222" stroke-width="0.6"/>
<text transform="translate(228.10 178.38) scale(1 1)" text-anchor="end" font-size="9.8" letter-spacing="-0.2" stroke="#000" stroke-width="0.12" fill="#000">8</text>
<text x="272.2" y="172.4" text-anchor="middle" font-size="9.45" font-style="italic" stroke="#000" stroke-width="0.12" fill="#000">Gata3/Hprt1</text>
</g>
<g>
<path d="M338.5 252.7V174.0H418.6V252.7" fill="none" stroke="#777" stroke-width="1.0"/>
<rect x="339.60" y="252.00" width="8.50" height="0.50" fill="#555" opacity="0.75"/>
<path d="M343.85 252.7v1.6" stroke="#222" stroke-width="0.6"/>
<text transform="translate(347.15 259.60) rotate(-45) scale(0.9 1)" text-anchor="end" font-size="9.0" letter-spacing="-0.15" word-spacing="0.2" stroke="#000" stroke-width="0.2" fill="#000" y="3.2">BM LSK</text>
<rect x="351.33" y="249.08" width="7.90" height="3.62" fill="#c8c8c8" stroke="#6c6c6c" stroke-width="0.6"/>
<path d="M355.28 252.7v1.6" stroke="#222" stroke-width="0.6"/>
<text transform="translate(359.18 259.60) rotate(-45) scale(0.9 1)" text-anchor="end" font-size="9.0" letter-spacing="-0.15" word-spacing="0.2" stroke="#000" stroke-width="0.2" fill="#000" y="3.2">ETP</text>
<path d="M366.50 246.18V243.65M365.00 243.95H368.00" fill="none" stroke="#555" stroke-width="0.55"/>
<rect x="362.76" y="246.18" width="7.90" height="6.52" fill="#a4a4a4" stroke="#5c5c5c" stroke-width="0.6"/>
<path d="M366.71 252.7v1.6" stroke="#222" stroke-width="0.6"/>
<text transform="translate(370.61 259.60) rotate(-45) scale(0.9 1)" text-anchor="end" font-size="9.0" letter-spacing="-0.15" word-spacing="0.2" stroke="#000" stroke-width="0.2" fill="#000" y="3.2">DN2</text>
<path d="M378.50 240.14V234.60M377.00 234.90H380.00" fill="none" stroke="#555" stroke-width="0.55"/>
<rect x="374.19" y="240.14" width="7.90" height="12.56" fill="#888888" stroke="#505050" stroke-width="0.6"/>
<path d="M378.14 252.7v1.6" stroke="#222" stroke-width="0.6"/>
<text transform="translate(382.04 259.60) rotate(-45) scale(0.9 1)" text-anchor="end" font-size="9.0" letter-spacing="-0.15" word-spacing="0.2" stroke="#000" stroke-width="0.2" fill="#000" y="3.2">DN3</text>
<path d="M389.50 209.98V189.71M388.00 190.01H391.00" fill="none" stroke="#555" stroke-width="0.55"/>
<rect x="385.62" y="209.98" width="7.90" height="42.72" fill="#2e2e2e" stroke="#111" stroke-width="0.6"/>
<path d="M389.57 252.7v1.6" stroke="#222" stroke-width="0.6"/>
<text transform="translate(393.47 259.60) rotate(-45) scale(0.9 1)" text-anchor="end" font-size="9.0" letter-spacing="-0.15" word-spacing="0.2" stroke="#000" stroke-width="0.2" fill="#000" y="3.2">DP</text>
<rect x="396.75" y="252.00" width="8.50" height="0.50" fill="#555" opacity="0.75"/>
<path d="M401.00 252.7v1.6" stroke="#222" stroke-width="0.6"/>
<text transform="translate(403.30 259.60) rotate(-45) scale(0.9 1)" text-anchor="end" font-size="9.0" letter-spacing="-0.15" word-spacing="0.2" stroke="#000" stroke-width="0.2" fill="#000" y="3.2">Spl Thy1.2<tspan dy="-3.2" dx="0.3" font-size="7">-</tspan></text>
<path d="M412.50 240.14V234.13M411.00 234.43H414.00" fill="none" stroke="#555" stroke-width="0.55"/>
<rect x="408.48" y="240.14" width="7.90" height="12.56" fill="#8a8a8a" stroke="#505050" stroke-width="0.6"/>
<path d="M412.43 252.7v1.6" stroke="#222" stroke-width="0.6"/>
<text transform="translate(415.73 259.60) rotate(-45) scale(0.9 1)" text-anchor="end" font-size="9.0" letter-spacing="-0.15" word-spacing="0.2" stroke="#000" stroke-width="0.2" fill="#000" y="3.2">SPT</text>
<path d="M338.1 252.7H419.0" fill="none" stroke="#222" stroke-width="1.1"/>
<path d="M338.5 252.70h-1.6" stroke="#222" stroke-width="0.6"/>
<text transform="translate(336.00 256.98) scale(1 1)" text-anchor="end" font-size="9.8" letter-spacing="-0.2" stroke="#000" stroke-width="0.12" fill="#000">0</text>
<path d="M338.5 234.60h-1.6" stroke="#222" stroke-width="0.6"/>
<text transform="translate(336.00 238.88) scale(1 1)" text-anchor="end" font-size="9.8" letter-spacing="-0.2" stroke="#000" stroke-width="0.12" fill="#000">5</text>
<path d="M338.5 216.50h-1.6" stroke="#222" stroke-width="0.6"/>
<text transform="translate(336.00 220.78) scale(1 1)" text-anchor="end" font-size="9.8" letter-spacing="-0.2" stroke="#000" stroke-width="0.12" fill="#000">10</text>
<path d="M338.5 198.40h-1.6" stroke="#222" stroke-width="0.6"/>
<text transform="translate(336.00 202.68) scale(1 1)" text-anchor="end" font-size="9.8" letter-spacing="-0.2" stroke="#000" stroke-width="0.12" fill="#000">15</text>
<path d="M338.5 180.30h-1.6" stroke="#222" stroke-width="0.6"/>
<text transform="translate(336.00 184.58) scale(1 1)" text-anchor="end" font-size="9.8" letter-spacing="-0.2" stroke="#000" stroke-width="0.12" fill="#000">20</text>
<text x="381.2" y="172.4" text-anchor="middle" font-size="9.45" font-style="italic" stroke="#000" stroke-width="0.12" fill="#000">Tcf1/Hprt1</text>
</g>
<path d="M469.8 252.5H478.6" stroke="#bdbdbd" stroke-width="0.7"/>
<path d="M123.4 232.7h-1.3" stroke="#555" stroke-width="0.5"/>
</g></svg>
</body></html>
